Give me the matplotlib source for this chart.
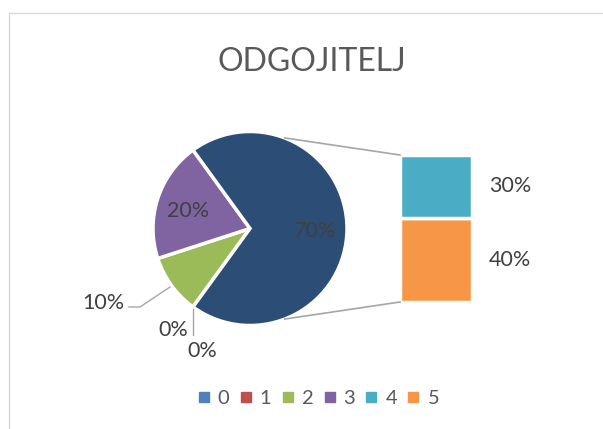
import numpy as np
import matplotlib
matplotlib.use("Agg")
import matplotlib.pyplot as plt
from matplotlib.lines import Line2D
from matplotlib.patches import Rectangle

# data (percent per answer category)
categories = ["0", "1", "2", "3", "4", "5"]
values = [0, 0, 10, 20, 30, 40]
colors = ["#4F81BD", "#C0504D", "#9BBB59", "#8064A2", "#4BACC6", "#F79646"]
other_color = "#2C4D75"
title = "ODGOJITELJ"
n_pie = 4                      # first categories go to the pie, rest to the bar

plt.rcParams["font.family"] = ["Lato", "DejaVu Sans"]

W, H = 603, 429
fig = plt.figure(figsize=(W / 100, H / 100), dpi=100)
ax = fig.add_axes([0, 0, 1, 1])
ax.set_xlim(0, W)
ax.set_ylim(0, H)
ax.axis("off")

# chart frame
ax.add_patch(Rectangle((9, -20), 700, H - 13 + 20, fill=False,
                       edgecolor="#D9D9D9", linewidth=1))

ax.text(312, H - 62, title, ha="center", va="center", fontsize=23,
        color="#595959")

# pie with the "other" slice
pie_vals = values[:n_pie] + [sum(values[n_pie:])]
pie_cols = colors[:n_pie] + [other_color]
center = (250, H - 228.5)
radius = 97
wedges, _ = ax.pie(pie_vals, colors=pie_cols, startangle=234,
                   counterclock=False, center=center, radius=radius,
                   wedgeprops=dict(edgecolor="white", linewidth=2.5))
ax.set_xlim(0, W)
ax.set_ylim(0, H)
ax.set_aspect("auto")

lab_col = "#404040"
fs = 15.5
for w, v in zip(wedges, pie_vals):
    if v < 15:
        continue
    mid = np.deg2rad((w.theta1 + w.theta2) / 2)
    r = radius * 0.67
    ax.text(center[0] + r * np.cos(mid), center[1] + r * np.sin(mid) - 2.5,
            f"{v}%", ha="center", va="center", fontsize=fs, color=lab_col)

# small slices: outside labels with leaders
ax.plot([129, 140, 170], [H - 307, H - 307, H - 287], color="#A6A6A6", lw=1)
ax.text(103, H - 303, f"{pie_vals[2]}%", ha="center", va="center",
        fontsize=fs, color=lab_col)
ax.plot([193, 193], [H - 309, H - 335], color="#A6A6A6", lw=1)
ax.text(173, H - 330, f"{pie_vals[0]}%", ha="center", va="center",
        fontsize=fs, color=lab_col)
ax.text(202, H - 351, f"{pie_vals[1]}%", ha="center", va="center",
        fontsize=fs, color=lab_col)

# bar of the "other" part
scale = 2.1
bar_x, bar_w = 436, 72
bottom = H - 302
for v, c in zip(values[n_pie:][::-1], colors[n_pie:][::-1]):
    ax.bar(bar_x, v * scale, width=bar_w, bottom=bottom, color=c,
           edgecolor="white", linewidth=2.5)
    ax.text(510, bottom + v * scale / 2, f"{v}%", ha="center", va="center",
            fontsize=fs, color=lab_col)
    bottom += v * scale
bar_top = bottom

# connector lines
ang = np.deg2rad(69)
for s, yb in [(1, bar_top), (-1, H - 302)]:
    ax.plot([center[0] + radius * np.cos(ang), bar_x - bar_w / 2],
            [center[1] + s * radius * np.sin(ang), yb],
            color="#A6A6A6", lw=1.2)

# legend
handles = [Line2D([], [], marker="s", linestyle="", markersize=7,
                  color=c) for c in colors]
ax.legend(handles, categories, loc="center", ncol=6, frameon=False,
          bbox_to_anchor=(318 / W, 1 - 398 / H), fontsize=14.5,
          handlelength=0.7, handletextpad=0.35, columnspacing=0.45,
          labelcolor="#595959")

fig.savefig("out.png", dpi=100)
